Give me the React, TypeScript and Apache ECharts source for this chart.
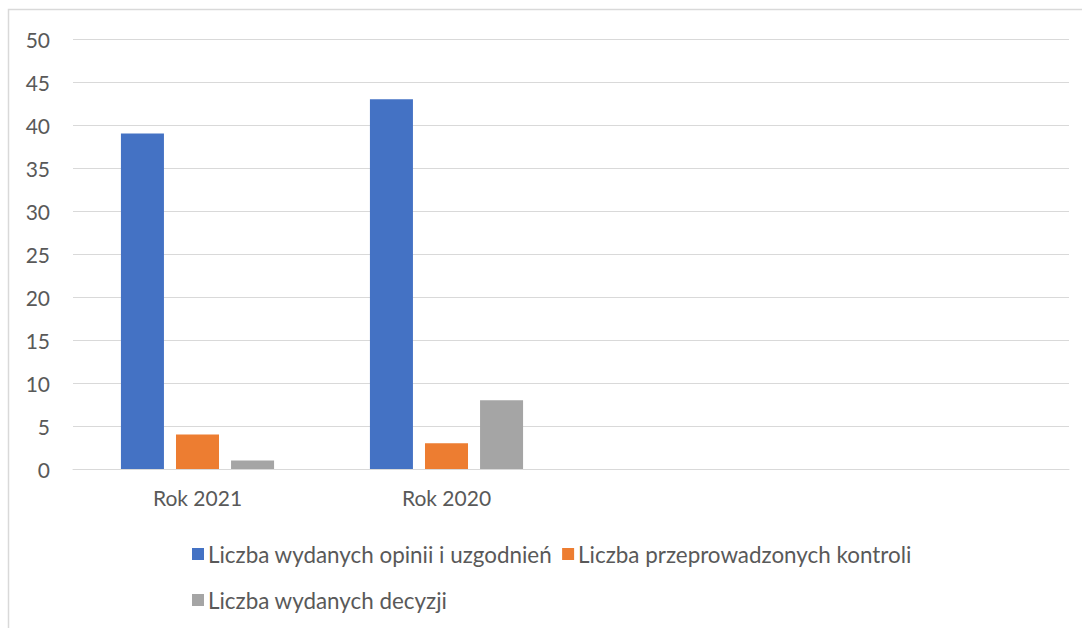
import React, { useEffect, useRef } from "react";
import * as echarts from "echarts";

const categories = ["Rok 2021", "Rok 2020", "", " "];
const seriesNames = [
  "Liczba wydanych opinii i uzgodnień",
  "Liczba przeprowadzonych kontroli",
  "Liczba wydanych decyzji",
];
const opinie = [39, 43, null, null];
const kontrole = [4, 3, null, null];
const decyzje = [1, 8, null, null];
const colors = ["#4472c4", "#ed7d31", "#a5a5a5"];

export default function App() {
  const ref = useRef<HTMLDivElement>(null);
  useEffect(() => {
    const chart = echarts.init(ref.current!, null, { renderer: "svg" });
    const font = "Lato, sans-serif";
    const fs = 21;
    const lfs = 22.4;
    chart.setOption({
      animation: false,
      textStyle: { fontFamily: font },
      grid: { left: 73, right: 13, top: 39, bottom: 159 },
      graphic: [
        {
          type: "rect",
          shape: { x: 8.5, y: 9.5, width: 1090, height: 640 },
          style: { fill: "none", stroke: "#d9d9d9", lineWidth: 1.5 },
          silent: true,
        },
      ],
      xAxis: {
        type: "category",
        data: categories,
        axisLine: { lineStyle: { color: "#d9d9d9", width: 1 } },
        axisTick: { show: false },
        axisLabel: { color: "#595959", fontSize: fs, margin: 18, fontFamily: font },
      },
      yAxis: {
        type: "value",
        min: 0,
        max: 50,
        interval: 5,
        axisLine: { show: false },
        axisTick: { show: false },
        splitLine: { lineStyle: { color: "#d9d9d9", width: 1 } },
        axisLabel: { color: "#595959", fontSize: fs, margin: 23, fontFamily: font },
      },
      legend: [
        {
          data: [seriesNames[0], seriesNames[1]],
          left: 187,
          top: 538,
          itemWidth: 12,
          itemHeight: 12,
          itemGap: 10,
          icon: "rect",
          textStyle: { color: "#595959", fontSize: lfs, fontFamily: font, padding: [0, 0, 0, -1] },
        },
        {
          data: [seriesNames[2]],
          left: 187,
          top: 584,
          itemWidth: 12,
          itemHeight: 12,
          itemGap: 10,
          icon: "rect",
          textStyle: { color: "#595959", fontSize: lfs, fontFamily: font, padding: [0, 0, 0, -1] },
        },
      ],
      series: [
        { name: seriesNames[0], type: "bar", data: opinie, itemStyle: { color: colors[0] }, barGap: "28%", barCategoryGap: "38.5%" },
        { name: seriesNames[1], type: "bar", data: kontrole, itemStyle: { color: colors[1] }, barGap: "28%", barCategoryGap: "38.5%" },
        { name: seriesNames[2], type: "bar", data: decyzje, itemStyle: { color: colors[2] }, barGap: "28%", barCategoryGap: "38.5%" },
      ],
    });
    return () => chart.dispose();
  }, []);
  return (
    <div
      ref={ref}
      style={{ position: "absolute", left: 0, top: 0, width: 1082, height: 628, overflow: "hidden" }}
    />
  );
}
